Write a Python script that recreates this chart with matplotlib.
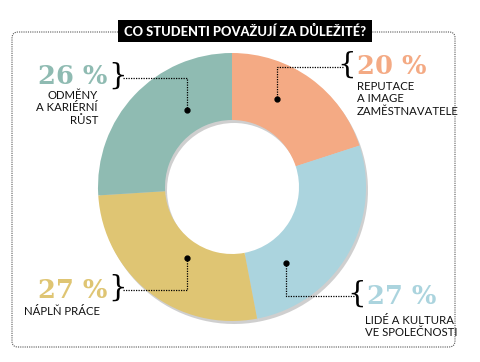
import matplotlib
matplotlib.use("Agg")
from matplotlib import pyplot as plt
from matplotlib.patches import FancyBboxPatch, Rectangle

W, H = 480, 362

title = "CO STUDENTI POVAŽUJÍ ZA DŮLEŽITÉ?"
values = [20, 27, 27, 26]
pct_labels = ["20 %", "27 %", "27 %", "26 %"]
names = ["REPUTACE\nA IMAGE\nZAMĚSTNAVATELE",
         "LIDÉ A KULTURA\nVE SPOLEČNOSTI",
         "NÁPLŇ PRÁCE",
         "ODMĚNY\nA KARIÉRNÍ\nRŮST"]
colors = ["#F4AA84", "#ABD4DE", "#DFC573", "#8FBBB2"]


def py(y):
    # image row -> data y
    return H - y


fig = plt.figure(figsize=(4.8, 3.62), dpi=100)
ax = fig.add_axes([0, 0, 1, 1])

# dotted frame
frame = FancyBboxPatch((12, py(347)), 443, 315,
                       boxstyle="round,pad=0,rounding_size=6",
                       fill=False, ec="#555555", lw=0.8, ls=(0, (1, 1)))
ax.add_patch(frame)

# donut with a soft shadow
cx, cy, r, w = 232, py(187), 134, 67
ax.pie(values, center=(cx + 2, cy - 3), radius=r, startangle=90,
       counterclock=False, colors=["#777777"] * 4, frame=True,
       wedgeprops=dict(width=w, lw=0, alpha=0.35))
ax.pie(values, center=(cx, cy), radius=r, startangle=90,
       counterclock=False, colors=colors, frame=True,
       wedgeprops=dict(width=w, lw=0))
ax.set_xlim(0, W)
ax.set_ylim(0, H)
ax.set_aspect("equal")
ax.axis("off")

# title box
ax.add_patch(Rectangle((118, py(42)), 254, 22, fc="black", ec="none", zorder=5))
ax.text(245, py(31), title, color="white", fontsize=9.3, fontweight="black",
        family="Lato", ha="center", va="center", zorder=6)

serif = "DejaVu Serif"
sans = "Lato"

# label layout: (pct x, pct y, ha, names x, names y, brace x, brace char,
#                dot x, dot y, line y, line x end)
layout = [
    (357, 67, "left", 357, 81, 347, "{", 277, 99, 67, 343),
    (367, 297, "left", 365, 315, 357, "{", 286, 263, 296, 354),
    (107, 291, "right", 100, 306, 118, "}", 187, 258, 290, 123),
    (107, 77, "right", 98, 90, 118, "}", 187, 110, 78, 123),
]

for (px, pyy, ha, nx, ny, bx, bch, dx, dy, ly, lx), pl, nm, c in zip(
        layout, pct_labels, names, colors):
    ax.text(px, py(pyy), pl, color=c, fontsize=18.5, fontweight="bold",
            family=serif, ha=ha, va="center")
    ax.text(nx, py(ny), nm, color="#111111", fontsize=8.2, family=sans,
            ha=ha, va="top", linespacing=1.15, multialignment=ha)
    ax.text(bx, py(ly - 2), bch, color="black", fontsize=21, family=serif,
            ha="center", va="center")
    ax.plot([lx, dx, dx], [py(ly), py(ly), py(dy)], color="black", lw=0.9,
            ls=(0, (1, 1)))
    ax.plot(dx, py(dy), "o", color="black", ms=3.5)

fig.savefig("out.png", dpi=100)
